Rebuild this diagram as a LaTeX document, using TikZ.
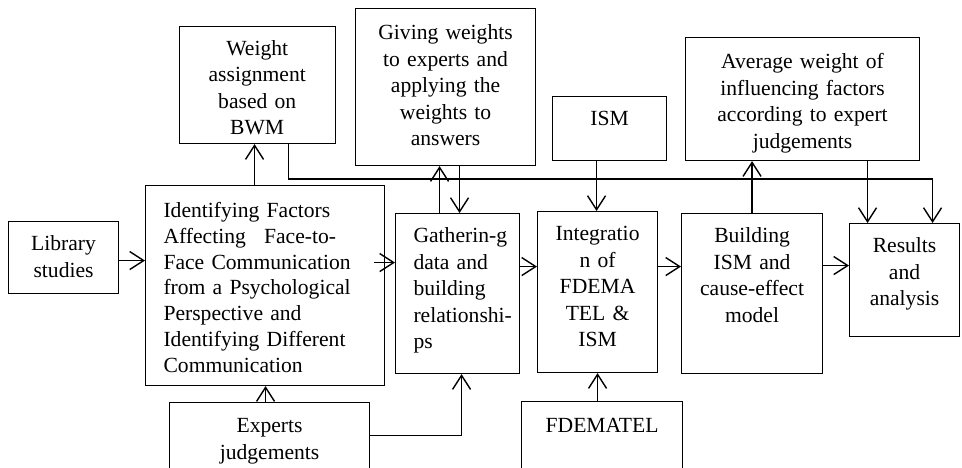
\documentclass[tikz,border=0pt]{standalone}
\usepackage{fontspec}
\setmainfont{Liberation Serif}
\usetikzlibrary{arrows.meta}
\hyphenpenalty=10000
\exhyphenpenalty=10000
\newcommand\boxfont{\fontsize{21.6}{26.5}\selectfont}
\newcommand\widefont{\fontsize{21.6}{25.8}\selectfont}
\begin{document}
\begin{tikzpicture}[x=1pt,y=1pt,
  every node/.style={font=\boxfont},
  box/.style={draw, line width=1.1pt, inner sep=0pt, anchor=north west, align=center},
  leftbox/.style={box, align=left, inner xsep=18pt, inner ysep=0pt},
  lbl/.style={inner sep=0pt, anchor=north west, align=center},
  arr/.style={line width=1.4pt, -{Straight Barb[length=14pt,width=18pt]}}]

% page area
\clip (0,0) rectangle (962,-467);
\fill[white] (0,0) rectangle (962,-467);

% boxes
\node[box, text width=110pt, text height=29pt, text depth=43pt] (lib) at (8,-221) {Library\\studies};

\node[leftbox, text width=203pt, text height=32pt, text depth=168pt, font=\widefont] (ident) at (145,-185)
  {Identifying Factors\\Affecting\hspace*{11pt} Face-to-\\Face Communication\\from a Psychological\\Perspective and\\Identifying Different\\Communication};

\node[box, minimum width=156pt, minimum height=117pt] (bwm) at (179,-26) {};
\begin{scope}
  \clip (bwm.north west) rectangle ([yshift=10pt]bwm.south east);
  \node[lbl, text width=156pt, text height=29pt, text depth=0pt] (bwmtext) at (bwm.north west)
    {Weight\\assignment\\based on\\BWM};
\end{scope}

\node[box, text width=180pt, text height=31pt, text depth=126pt] (give) at (355,-8)
  {Giving weights\\to experts and\\applying the\\weights to\\answers};

\node[box, text width=114pt, text height=29pt, text depth=35pt] (ism) at (552,-96) {ISM};

\node[box, text width=234pt, text height=31pt, text depth=92pt] (avg) at (685,-37)
  {Average weight of\\influencing factors\\according to expert\\judgements};

\node[leftbox, text width=88pt, text height=29pt, text depth=131pt] (gath) at (395,-213)
  {Gatherin-g\\data and\\building\\relationshi-\\ps};

\node[box, text width=120pt, text height=29pt, text depth=132pt] (integ) at (537,-211)
  {Integratio\\n of\\FDEMA\\TEL \&\\ISM};

\node[box, text width=141pt, text height=29pt, text depth=131pt] (build) at (681,-213)
  {Building\\ISM and\\cause-effect\\model};

\node[box, text width=110pt, text height=29pt, text depth=84pt] (res) at (849,-223)
  {Results\\and\\analysis};

\node[box, text width=161pt, text height=31pt, text depth=48pt] (fdem) at (521,-401) {FDEMATEL};

\node[box, text width=200pt, text height=30pt, text depth=48pt] (exp) at (169,-402)
  {Experts\\judgements};

% main flow
\coordinate (p1) at ([yshift=-3pt]lib.east);
\draw[arr] (p1) -- (p1 -| ident.west);
\coordinate (p2) at ([xshift=-11pt,yshift=23pt]ident.east);
\draw[arr] (p2) -- (p2 -| gath.west);
\coordinate (p3) at ([yshift=27pt]gath.east);
\draw[arr] (p3) -- (p3 -| integ.west);
\coordinate (p4) at ([yshift=25.5pt]integ.east);
\draw[arr] (p4) -- (p4 -| build.west);
\coordinate (p5) at ([yshift=28pt]build.east);
\draw[arr] (p5) -- (p5 -| res.west);

% links to the side boxes
\coordinate (u1) at ([xshift=-10.5pt]ident.north);
\draw[arr] (u1) -- (u1 |- bwm.south);
\coordinate (u2) at ([xshift=-4pt]exp.north);
\draw[arr] (u2) -- (u2 |- ident.south);
\coordinate (e8) at ([yshift=6pt]exp.east);
\coordinate (g8) at ([xshift=4pt]gath.south);
\draw[arr] (e8) -| (g8);
\coordinate (u3) at ([xshift=-18pt]gath.north);
\draw[arr] (u3) -- (u3 |- give.south);
\coordinate (d1) at ([xshift=14pt]give.south);
\draw[arr] (d1) -- (d1 |- gath.north);
\coordinate (d2) at ([xshift=-13pt]ism.south);
\draw[arr] (d2) -- (d2 |- integ.north);
\coordinate (u4) at ([xshift=-4.5pt]fdem.north);
\draw[arr] (u4) -- (u4 |- integ.south);
\draw[arr] (build.north) -- (build.north |- avg.south);
\coordinate (d3) at ([xshift=65pt]avg.south);
\draw[arr] (d3) -- (d3 |- res.north);
\coordinate (b1) at ([xshift=31pt]bwm.south);
\coordinate (r1) at ([xshift=28pt]res.north);
\draw[arr] (b1) -- ++(0,-35) -| (r1);
\end{tikzpicture}
\end{document}
